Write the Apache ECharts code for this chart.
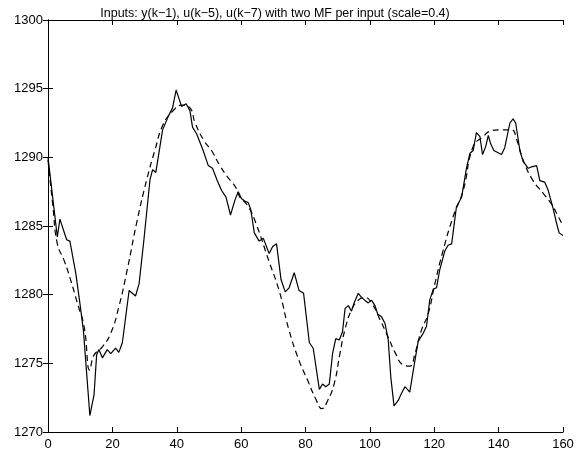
<!DOCTYPE html>
<html>
<head>
<meta charset="utf-8" />
<title>ANFIS output</title>
<script type="text/javascript" src="https://cdn.jsdelivr.net/npm/echarts@6/dist/echarts.min.js"></script>
<style>
  body { margin: 0; background: #fff; }
  #chart { width: 580px; height: 455px; }
</style>
</head>
<body>
<div id="chart"></div>
<script type="text/javascript">
// measured output (solid)
var kReal = [0, 2.9, 3.7, 5.8, 6.8, 8.6, 9.9, 11, 13, 14.3, 15.1, 15.8, 16.9, 18.4, 19.5, 21, 22, 23.1, 23.5,
  25.2, 27.2, 28.3, 29.8, 31.7, 32.5, 33.5, 35.6, 37.4, 38.7, 39.8, 40.8, 41.5, 42.9, 44.1, 44.9, 46.2,
  48.2, 49.8, 51.1, 52.6, 53.9, 55.3, 56.7, 58.1, 59.1, 60.1, 61.2, 62.2, 63, 64.1, 65.6, 66.9, 68.7,
  69.8, 71, 72.4, 73.7, 74.9, 76.5, 78, 79.4, 81.2, 82.4, 84.3, 85.3, 86.3, 87.4, 88.4, 89.4, 90.5,
  91.5, 92.3, 93.3, 94.3, 95.1, 96.4, 97.4, 98.4, 99.5, 100.5, 101.6, 102.4, 103.6, 104.7, 105.7,
  106.5, 107.5, 108.8, 109.8, 110.9, 112.4, 113.5, 115, 116.6, 117.6, 118.6, 119.7, 120.7, 121.7,
  123.3, 124.3, 125.4, 126.9, 128.5, 130, 131.1, 132.1, 133.1, 134.2, 135, 136, 136.8, 137.5, 138.5,
  140.9, 141.9, 143.5, 144.5, 145.3, 146.6, 147.6, 149.2, 150.2, 151.8, 152.8, 154.3, 155.4, 156.9,
  158, 158.8, 160];
var yReal = [1290.0, 1284.2, 1285.5, 1284.0, 1283.9, 1281.6, 1279.4, 1277.4, 1271.2, 1272.7, 1275.6, 1276.0,
  1275.4, 1276.0, 1275.7, 1276.1, 1275.8, 1276.5, 1276.4,
  1280.3, 1279.9, 1280.8, 1284.0, 1288.4, 1289.1, 1288.9, 1292.0, 1293.0, 1293.6, 1294.9, 1294.2, 1293.7,
  1293.9, 1293.4, 1292.2, 1291.7,
  1290.5, 1289.4, 1289.2, 1288.3, 1287.6, 1287.1, 1285.8, 1286.9, 1287.5, 1287.0, 1286.8, 1286.7, 1286.2,
  1284.5, 1283.9, 1284.1, 1283.0,
  1283.5, 1283.7, 1281.1, 1280.2, 1280.5, 1281.6, 1280.3, 1280.1, 1276.5, 1276.1, 1273.1, 1273.5, 1273.3,
  1273.5, 1275.7, 1276.8, 1276.7,
  1277.3, 1279.0, 1279.2, 1278.8, 1279.4, 1280.1, 1279.8, 1279.6, 1279.4, 1279.6, 1279.2, 1278.6, 1278.4,
  1277.9, 1276.7,
  1274.0, 1271.9, 1272.3, 1272.8, 1273.3, 1272.9, 1274.5, 1276.6, 1277.2, 1277.7, 1279.6, 1280.4, 1280.5,
  1281.8,
  1283.2, 1283.6, 1283.7, 1286.4, 1287.1, 1289.2, 1290.3, 1290.5, 1291.8, 1291.5, 1290.2, 1290.8, 1291.6,
  1291.0, 1290.5,
  1290.2, 1290.7, 1292.5, 1292.8, 1292.5, 1290.5, 1289.7, 1289.2, 1289.3, 1289.4, 1288.3, 1288.2, 1287.6,
  1286.3,
  1285.2, 1284.5, 1284.3];

// model output (dashed)
var kModel = [0, 1.5, 2.9, 5, 7, 9.1, 11.2, 13, 14.3, 16.9, 19.5, 22, 24.6, 27.7, 30.7, 33.2, 35.8, 38.9,
  41.5, 44.1, 45.7, 48.5, 50.8, 53.4, 56, 58.1, 59.6, 60.5, 62.5, 64.6, 68.7, 71.8, 74.9, 78, 80.6,
  83.2, 85.1, 86.9, 88.9, 90.7, 92.2, 94.3, 96.4, 98.4, 100.5, 103.1, 105.7, 107.8, 110.3, 112.4, 114,
  116, 118.1, 120.2, 122.5, 125.9, 129, 132.1, 135.2, 137.3, 140.4, 144, 145.6, 147.6, 150.7, 153.8,
  156.4, 158.5, 160];
var yModel = [1289.8, 1286.5, 1283.7, 1282.5, 1281.1, 1279.4, 1277.7, 1274.5, 1275.6, 1276.2, 1277.2, 1279.1,
  1281.8, 1285.4, 1288.4, 1290.5, 1292.4, 1293.4,
  1293.8, 1293.6, 1292.5, 1291.2, 1290.5, 1289.4, 1288.5, 1287.9, 1287.1, 1286.9, 1286.3, 1285.2, 1282.4,
  1280.3, 1277.4, 1275.2, 1273.8,
  1272.4, 1271.7, 1272.3, 1273.5, 1275.7, 1277.4, 1278.9, 1279.6, 1279.8, 1279.4, 1278.2, 1276.9, 1275.8,
  1274.9, 1274.8, 1275.7,
  1277.4, 1278.6, 1280.8, 1283.0, 1285.7, 1287.6, 1290.8, 1291.5, 1291.9, 1292.0, 1292.0, 1291.3, 1289.8,
  1288.3, 1287.4,
  1286.6, 1285.7, 1285.0];

var titleText = 'Inputs: y(k\u22121), u(k\u22125), u(k\u22127) with two MF per input (scale=0.4)';

function zip(xs, ys) {
  return xs.map(function (x, i) { return [x, ys[i]]; });
}

var myChart = echarts.init(document.getElementById('chart'));
var font = 'Liberation Sans, Arial, sans-serif';

var frameX = {
  type: 'value', min: 0, max: 160, interval: 20,
  axisLine: { show: true, lineStyle: { color: '#000', width: 1 } },
  axisTick: { show: true, inside: true, length: 5, lineStyle: { color: '#000' } },
  splitLine: { show: false }
};
var frameY = {
  type: 'value', min: 1270, max: 1300, interval: 5,
  axisLine: { show: true, lineStyle: { color: '#000', width: 1 } },
  axisTick: { show: true, inside: true, length: 5, lineStyle: { color: '#000' } },
  splitLine: { show: false }
};

myChart.setOption({
  animation: false,
  backgroundColor: '#fff',
  title: {
    text: titleText,
    left: 270, top: 2, textAlign: 'center',
    textStyle: { fontFamily: font, fontSize: 12.5, fontWeight: 'normal', color: '#000' }
  },
  grid: { left: 48, right: 17, top: 20, bottom: 23 },
  xAxis: [
    Object.assign({}, frameX, {
      position: 'bottom',
      axisLabel: { color: '#000', fontFamily: font, fontSize: 13, margin: 6,
        formatter: function (v) { return String(v); } }
    }),
    Object.assign({}, frameX, { position: 'top', axisLabel: { show: false } })
  ],
  yAxis: [
    Object.assign({}, frameY, {
      position: 'left',
      axisLabel: { color: '#000', fontFamily: font, fontSize: 13, margin: 5,
        formatter: function (v) { return String(v); } }
    }),
    Object.assign({}, frameY, { position: 'right', axisLabel: { show: false } })
  ],
  series: [
    {
      name: 'real', type: 'line', xAxisIndex: 0, yAxisIndex: 0,
      data: zip(kReal, yReal), showSymbol: false, smooth: false,
      lineStyle: { color: '#000', width: 1.2 }
    },
    {
      name: 'model', type: 'line', xAxisIndex: 0, yAxisIndex: 0,
      data: zip(kModel, yModel), showSymbol: false, smooth: true,
      lineStyle: { color: '#000', width: 1.2, type: [6, 4] }
    }
  ]
});
</script>
</body>
</html>
